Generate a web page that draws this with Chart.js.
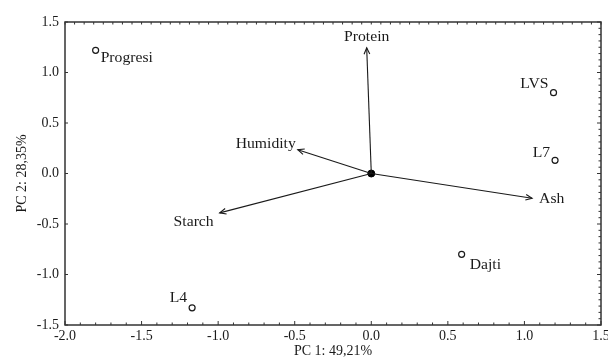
<!DOCTYPE html>
<html>
<head>
<meta charset="utf-8">
<script src="https://cdn.jsdelivr.net/npm/chart.js@4"></script>
<style>
  html, body { margin: 0; padding: 0; background: #fff; }
  #wrap { width: 608px; height: 360px; }
</style>
</head>
<body>
<div id="wrap"><canvas id="pca"></canvas></div>
<script>
// sample scores
const samples = ["Progresi", "LVS", "L7", "Dajti", "L4"];
const pc1 = [-1.8, 1.19, 1.2, 0.59, -1.17];
const pc2 = [1.22, 0.8, 0.13, -0.8, -1.33];

// variable loadings (arrows)
const variables = ["Protein", "Humidity", "Starch", "Ash"];
const loadX = [-0.03, -0.48, -0.99, 1.05];
const loadY = [1.245, 0.235, -0.39, -0.245];

const xTicks = [-2.0, -1.5, -1.0, -0.5, 0.0, 0.5, 1.0, 1.5];
const yTicks = [-1.5, -1.0, -0.5, 0.0, 0.5, 1.0, 1.5];

const ink = "#1a1a1a";
const serif = "'Liberation Serif', 'DejaVu Serif', serif";

// label offsets next to each mark: [dx, dy, align]
const sampleLabelPos = {
  Progresi: [5, 8, "left"],
  LVS: [-5, -8, "right"],
  L7: [-5, -7, "right"],
  Dajti: [8, 11, "left"],
  L4: [-5, -10, "right"],
};
const varLabelPos = {
  Protein: [0, -10, "center"],
  Humidity: [-2, -5, "right"],
  Starch: [-6, 9, "right"],
  Ash: [7, 1, "left"],
};

const arrowSets = variables.map((v, i) => ({
  label: v,
  data: [{ x: 0, y: 0 }, { x: loadX[i], y: loadY[i] }],
  showLine: true,
  borderColor: ink,
  borderWidth: 1.1,
  pointRadius: 0,
}));

// stretched text, the original labels are wide
function wideText(ctx, txt, x, y, align) {
  const sx = 1.12;
  ctx.save();
  ctx.translate(x, y);
  ctx.scale(sx, 1);
  ctx.textAlign = align;
  ctx.fillText(txt, 0, 0);
  ctx.restore();
}

const pcaDecor = {
  id: "pcaDecor",
  afterDatasetsDraw(chart) {
    const ctx = chart.ctx;
    const xs = chart.scales.x;
    const ys = chart.scales.y;
    const area = chart.chartArea;
    ctx.save();

    // frame
    ctx.strokeStyle = "#333";
    ctx.lineWidth = 1.5;
    ctx.strokeRect(area.left, area.top, area.right - area.left, area.bottom - area.top);

    // ticks, pointing inward
    ctx.lineWidth = 1;
    ctx.beginPath();
    for (let v = -2.0; v <= 1.5001; v += 0.1) {
      const px = xs.getPixelForValue(v);
      const major = Math.abs(v * 2 - Math.round(v * 2)) < 1e-6;
      ctx.moveTo(px, area.bottom);
      ctx.lineTo(px, area.bottom - (major ? 4 : 2.5));
    }
    for (let v = -2.0; v <= 1.5001; v += 0.0625) {
      const px = xs.getPixelForValue(v);
      ctx.moveTo(px, area.top);
      ctx.lineTo(px, area.top + 2.5);
    }
    for (let v = -1.5; v <= 1.5001; v += 0.5) {
      const py = ys.getPixelForValue(v);
      ctx.moveTo(area.left, py);
      ctx.lineTo(area.left + 3, py);
    }
    for (let v = -1.5; v <= 1.5001; v += 0.0625) {
      const py = ys.getPixelForValue(v);
      const major = Math.abs(v * 2 - Math.round(v * 2)) < 1e-6;
      ctx.moveTo(area.right, py);
      ctx.lineTo(area.right - (major ? 4 : 2.5), py);
    }
    ctx.stroke();

    // arrowheads
    ctx.strokeStyle = ink;
    ctx.lineWidth = 1.1;
    variables.forEach((v, i) => {
      const x0 = xs.getPixelForValue(0), y0 = ys.getPixelForValue(0);
      const x1 = xs.getPixelForValue(loadX[i]), y1 = ys.getPixelForValue(loadY[i]);
      const ang = Math.atan2(y1 - y0, x1 - x0);
      const len = 7, spread = 0.42;
      ctx.beginPath();
      ctx.moveTo(x1 - len * Math.cos(ang - spread), y1 - len * Math.sin(ang - spread));
      ctx.lineTo(x1, y1);
      ctx.lineTo(x1 - len * Math.cos(ang + spread), y1 - len * Math.sin(ang + spread));
      ctx.stroke();
    });

    // text labels
    ctx.fillStyle = ink;
    ctx.font = "14px " + serif;
    ctx.textBaseline = "middle";
    samples.forEach((s, i) => {
      const p = sampleLabelPos[s];
      wideText(ctx, s, xs.getPixelForValue(pc1[i]) + p[0], ys.getPixelForValue(pc2[i]) + p[1], p[2]);
    });
    variables.forEach((v, i) => {
      const p = varLabelPos[v];
      wideText(ctx, v, xs.getPixelForValue(loadX[i]) + p[0], ys.getPixelForValue(loadY[i]) + p[1], p[2]);
    });
    ctx.restore();
  },
};

new Chart(document.getElementById("pca"), {
  type: "scatter",
  data: {
    datasets: [
      ...arrowSets,
      {
        label: "origin",
        data: [{ x: 0, y: 0 }],
        pointRadius: 3.5,
        backgroundColor: "#000",
        borderColor: "#000",
      },
      {
        label: "samples",
        data: samples.map((s, i) => ({ x: pc1[i], y: pc2[i] })),
        pointStyle: "circle",
        pointRadius: 3,
        borderWidth: 1.2,
        borderColor: ink,
        backgroundColor: "#fff",
      },
    ],
  },
  options: {
    responsive: true,
    maintainAspectRatio: false,
    animation: false,
    layout: { padding: { top: 22, right: 7, left: 0, bottom: 0 } },
    plugins: {
      legend: { display: false },
      tooltip: { enabled: false },
    },
    scales: {
      x: {
        type: "linear",
        min: -2,
        max: 1.5,
        afterBuildTicks: (s) => { s.ticks = xTicks.map((v) => ({ value: v })); },
        afterFit: (s) => { s.height = 35; s.paddingRight = 0; s.paddingLeft = 0; },
        grid: { display: false, drawTicks: false },
        border: { display: false },
        ticks: {
          padding: 3,
          color: ink,
          font: { family: serif, size: 14 },
          maxRotation: 0,
          callback: (v) => Number(v).toFixed(1),
        },
        title: {
          display: true,
          text: "PC 1: 49,21%",
          color: ink,
          font: { family: serif, size: 14 },
          padding: { top: 0, bottom: 0 },
        },
      },
      y: {
        type: "linear",
        min: -1.5,
        max: 1.5,
        afterBuildTicks: (s) => { s.ticks = yTicks.map((v) => ({ value: v })); },
        afterFit: (s) => { s.width = 65; s.paddingTop = 0; s.paddingBottom = 0; },
        grid: { display: false, drawTicks: false },
        border: { display: false },
        ticks: {
          padding: 6,
          color: ink,
          font: { family: serif, size: 14 },
          callback: (v) => Number(v).toFixed(1),
        },
        title: {
          display: true,
          text: "PC 2: 28,35%",
          color: ink,
          font: { family: serif, size: 14 },
          padding: { top: 14, bottom: 0 },
        },
      },
    },
  },
  plugins: [pcaDecor],
});
</script>
</body>
</html>
